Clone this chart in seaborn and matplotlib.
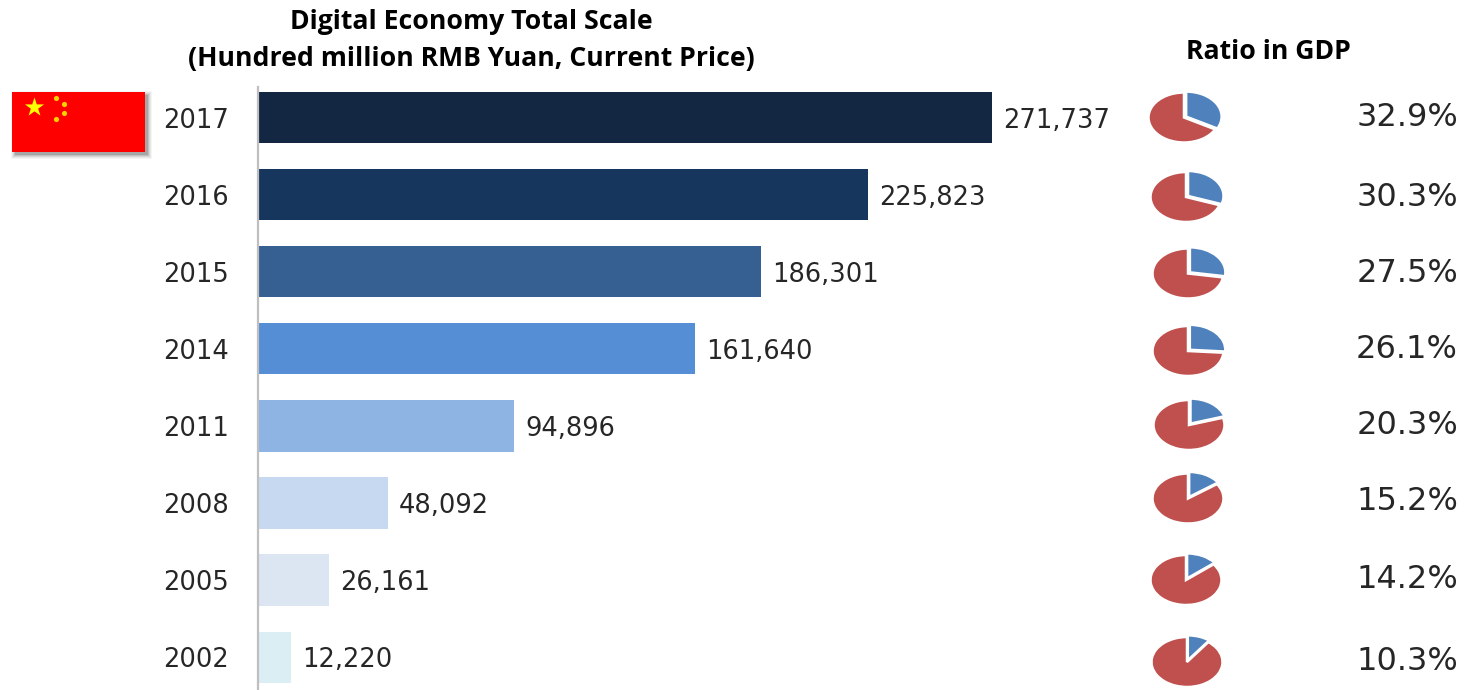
import matplotlib
matplotlib.use("Agg")
import matplotlib.pyplot as plt
from matplotlib.patches import Rectangle
import pandas as pd
import seaborn as sns

years = ["2017", "2016", "2015", "2014", "2011", "2008", "2005", "2002"]
scale = [271737, 225823, 186301, 161640, 94896, 48092, 26161, 12220]
gdp_ratio = [32.9, 30.3, 27.5, 26.1, 20.3, 15.2, 14.2, 10.3]
bar_colors = ["#132743", "#17365D", "#366092", "#558ED5",
              "#8EB4E3", "#C6D9F1", "#DCE6F2", "#DBEEF4"]

W, H = 1470, 690
TEXT = "#262626"
TITLE_FONT = "Open Sans"
TITLE_SIZE = 19.2

sns.set_theme(style="white")
plt.rcParams["font.family"] = ["DejaVu Sans"]

fig = plt.figure(figsize=(W / 100, H / 100), dpi=100, facecolor="white")


def px_axes(x0, y0, x1, y1, **kw):
    """Axes placed by pixel edges, with y measured from the top."""
    return fig.add_axes([x0 / W, 1 - y1 / H, (x1 - x0) / W, (y1 - y0) / H], **kw)


# Horizontal bars
df = pd.DataFrame({"year": years, "scale": scale})
ax = px_axes(258, 87, W, H)
sns.barplot(data=df, y="year", x="scale", hue="year", order=years, hue_order=years,
            palette=bar_colors, width=0.665, dodge=False, legend=False,
            saturation=1, linewidth=0, ax=ax)
ax.set_xlim(0, (W - 258) / 2.701e-3)
ax.set_ylim((H - 117.5) / 77.1, (87 - 117.5) / 77.1)
ax.set_xlabel("")
ax.set_ylabel("")
ax.xaxis.set_visible(False)
for side in ["top", "right", "bottom"]:
    ax.spines[side].set_visible(False)
ax.spines["left"].set_color("#BFBFBF")
ax.spines["left"].set_linewidth(1.6)
ax.tick_params(axis="y", length=0, pad=21, labelsize=18.5, labelcolor=TEXT)
ax.patch.set_alpha(0)
for container in ax.containers:
    for value_label in ax.bar_label(container, fmt="{:,.0f}", padding=8,
                                    fontsize=18.5, color=TEXT):
        value_label.set_verticalalignment("center_baseline")

# Share-of-GDP pies, squashed into ellipses
pie_centers = [(1184, 117.5), (1186, 197), (1188, 273.5), (1188, 351),
               (1189, 425), (1188, 498.5), (1186, 580), (1187, 662)]
text_rows = [117, 198, 273, 350, 425, 502, 579, 662]
for ratio, (cx, cy) in zip(gdp_ratio, pie_centers):
    pie_ax = px_axes(cx - 40, cy - 29, cx + 40, cy + 29)
    pie_ax.pie([ratio, 100 - ratio], colors=["#4F81BD", "#C0504D"], startangle=90,
               counterclock=False, explode=[0.07, 0],
               wedgeprops={"edgecolor": "white", "linewidth": 1.8})
    pie_ax.set_aspect("auto")
    pie_ax.set_xlim(-40 / 35.5, 40 / 35.5)
    pie_ax.set_ylim(-29 / 25, 29 / 25)
    pie_ax.patch.set_alpha(0)

# Overlay in pixel coordinates for the flag and free text
over = fig.add_axes([0, 0, 1, 1], zorder=5)
over.set_xlim(0, W)
over.set_ylim(H, 0)
over.axis("off")
over.patch.set_alpha(0)

for grow, alpha in [(4, 0.05), (3, 0.07), (2, 0.1), (1, 0.14), (0, 0.2)]:
    over.add_patch(Rectangle((12 + 3 - grow, 92 + 3 - grow), 133 + 2 * grow, 60 + 2 * grow,
                             facecolor="#404040", edgecolor="none", alpha=alpha))
over.add_patch(Rectangle((12, 92), 133, 60, facecolor="#FF0000", edgecolor="none"))
over.scatter([34], [106.5], marker="*", s=210, color="#FFFF00", linewidths=0)
over.scatter([56, 64, 64, 56], [98, 104, 113, 119], marker="o", s=14,
             color="#FFD000", linewidths=0)

for ratio, y in zip(gdp_ratio, text_rows):
    over.text(1458, y, f"{ratio:.1f}%", ha="right", va="center", fontsize=23, color=TEXT)

over.text(471, 22, "Digital Economy Total Scale", ha="center", va="center",
          fontsize=TITLE_SIZE, fontweight="bold", color="black", family=TITLE_FONT)
over.text(471, 59, "(Hundred million RMB Yuan, Current Price)", ha="center", va="center",
          fontsize=TITLE_SIZE, fontweight="bold", color="black", family=TITLE_FONT)
over.text(1268, 52, "Ratio in GDP", ha="center", va="center",
          fontsize=TITLE_SIZE, fontweight="bold", color="black", family=TITLE_FONT)

fig.savefig("out.png", dpi=100)
